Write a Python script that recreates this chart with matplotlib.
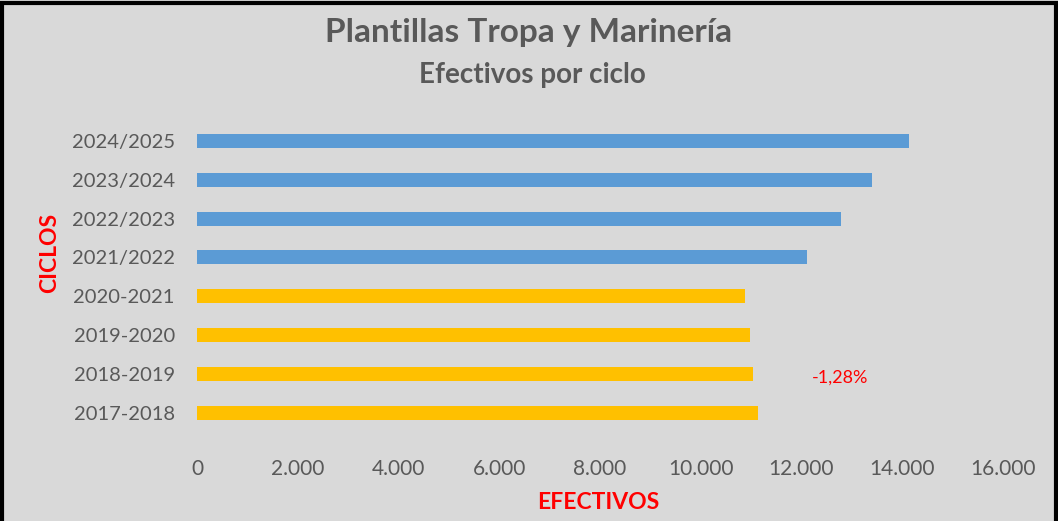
import matplotlib.pyplot as plt
from matplotlib.patches import Rectangle
from matplotlib.ticker import FuncFormatter

# Ciclos (de abajo a arriba) y efectivos
ciclos = ['2017-2018', '2018-2019', '2019-2020', '2020-2021',
          '2021/2022', '2022/2023', '2023/2024', '2024/2025']
efectivos = [11136, 11037, 10977, 10878, 12108, 12783, 13405, 14127]
grupo = ['old', 'old', 'old', 'old', 'new', 'new', 'new', 'new']
colores = {'old': '#ffc000', 'new': '#5b9bd5'}
variacion = '-1,28%'

bg = '#d9d9d9'
gris = '#595959'
plt.rcParams['font.family'] = ['Lato', 'DejaVu Sans']

fig = plt.figure(figsize=(10.58, 5.21), dpi=100, facecolor=bg)
ax = fig.add_axes([0.1862, 0.170, 0.7618, 0.597])
ax.set_facecolor(bg)

y = range(len(ciclos))
ax.barh(y, efectivos, height=0.36, color=[colores[g] for g in grupo])

ax.set_xlim(0, 16000)
ax.set_ylim(-0.5, len(ciclos) - 0.5)
ax.set_xticks(range(0, 16001, 2000))
ax.xaxis.set_major_formatter(FuncFormatter(lambda v, p: f'{int(v):,}'.replace(',', '.')))
ax.set_yticks(list(y))
ax.set_yticklabels(ciclos)
ax.tick_params(axis='x', length=0, pad=19, labelsize=15, labelcolor=gris)
ax.tick_params(axis='y', length=0, pad=16, labelsize=14.5, labelcolor=gris)
for s in ax.spines.values():
    s.set_visible(False)

ax.text(12760, 0.9, variacion, color='#ff0000', fontsize=13, ha='center', va='center')

fig.text(0.5, 0.937, 'Plantillas Tropa y Marinería', ha='center', va='center',
         fontsize=24, fontweight='bold', color=gris)
fig.text(0.503, 0.856, 'Efectivos por ciclo', ha='center', va='center',
         fontsize=20, fontweight='bold', color=gris)
fig.text(0.565, 0.036, 'EFECTIVOS', ha='center', va='center',
         fontsize=16.5, fontweight='bold', color='#ff0000')
fig.text(0.047, 0.514, 'CICLOS', ha='center', va='center', rotation=90,
         fontsize=16.5, fontweight='bold', color='#ff0000')

fig.patches.append(Rectangle((0.002, -0.01), 0.996, 1.004, transform=fig.transFigure,
                             fill=False, edgecolor='black', linewidth=3))

fig.savefig('out.png', dpi=100, facecolor=bg)
